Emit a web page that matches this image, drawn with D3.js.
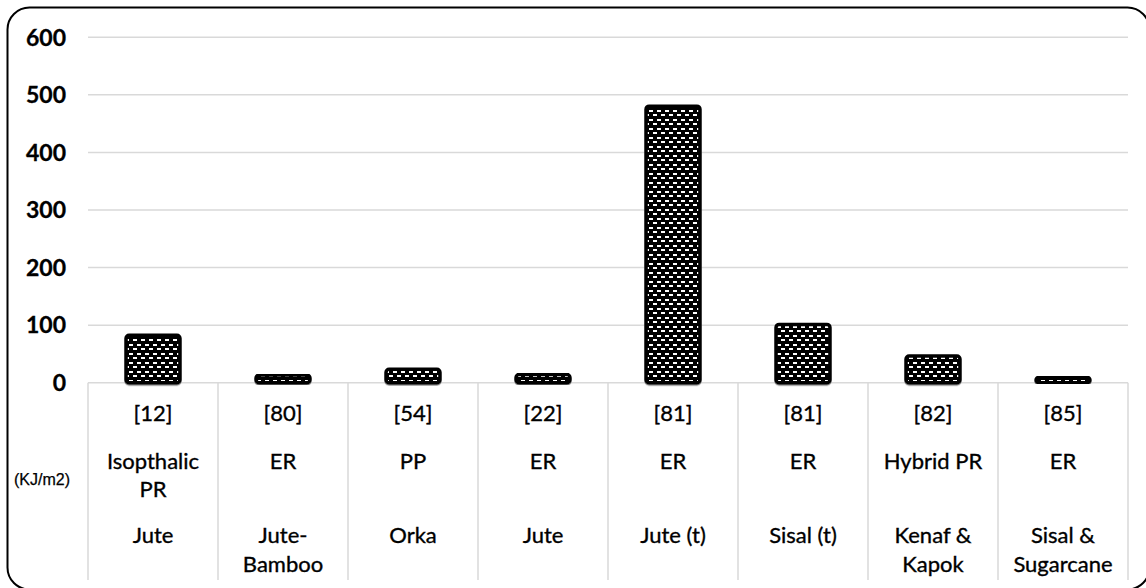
<!DOCTYPE html>
<html><head><meta charset="utf-8">
<script src="https://cdn.jsdelivr.net/npm/d3@7"></script>
<style>
html,body{margin:0;padding:0;background:#fff;}
svg{display:block;}
</style></head>
<body>
<svg id="chart" width="1146" height="588"></svg>
<script>
const refs = ["[12]","[80]","[54]","[22]","[81]","[81]","[82]","[85]"];
const matrices = [["Isopthalic","PR"],["ER"],["PP"],["ER"],["ER"],["ER"],["Hybrid PR"],["ER"]];
const fibers = [["Jute"],["Jute-","Bamboo"],["Orka"],["Jute"],["Jute (t)"],["Sisal (t)"],["Kenaf &","Kapok"],["Sisal &","Sugarcane"]];
const values = [84,15,25,16,482,103,48,11];
const yTicks = [0,100,200,300,400,500,600];
const unitLabel = "(KJ/m2)";

(function(){
const svg = d3.select("#chart");
const plotLeft = 88, plotRight = 1128, plotTop = 37.3, zeroY = 382.7, tableBottom = 580;
const font = "Lato, 'Open Sans', sans-serif";

// outer border
svg.append("rect").attr("x",7.5).attr("y",7.5).attr("width",1142).attr("height",582)
  .attr("rx",22).attr("fill","#fff").attr("stroke","#000").attr("stroke-width",2);

const defs = svg.append("defs");
const pat = defs.append("pattern").attr("id","dash").attr("patternUnits","userSpaceOnUse")
  .attr("width",8).attr("height",9);
pat.append("rect").attr("width",8).attr("height",9).attr("fill","#000");
pat.append("rect").attr("x",1).attr("y",2).attr("width",4).attr("height",2).attr("fill","#fff");
pat.append("rect").attr("x",5).attr("y",6).attr("width",4).attr("height",2).attr("fill","#fff");
pat.append("rect").attr("x",-3).attr("y",6).attr("width",4).attr("height",2).attr("fill","#fff");
const f = defs.append("filter").attr("id","sh").attr("x","-10%").attr("y","-10%").attr("width","120%").attr("height","130%");
f.append("feDropShadow").attr("dx",0).attr("dy",1.2).attr("stdDeviation",0.6).attr("flood-color","#555").attr("flood-opacity",0.8);

const x = d3.scaleBand().domain(d3.range(values.length)).range([plotLeft,plotRight])
  .paddingInner(0.57).paddingOuter(0.285);
const y = d3.scaleLinear().domain([0,600]).range([zeroY,plotTop]);

// gridlines
svg.append("g").selectAll("line").data(yTicks).join("line")
  .attr("x1",plotLeft).attr("x2",plotRight).attr("y1",d=>y(d)).attr("y2",d=>y(d))
  .attr("stroke","#d9d9d9").attr("stroke-width",1.5);

// y tick labels
svg.append("g").selectAll("text").data(yTicks).join("text")
  .attr("x",66).attr("y",d=>y(d)).attr("dy","0.36em").attr("text-anchor","end")
  .attr("font-family",font).attr("font-weight","bold").attr("font-size",23)
  .attr("stroke","#000").attr("stroke-width",0.3)
  .text(d=>d);

// table vertical dividers
const step = x.step();
svg.append("g").selectAll("line").data(d3.range(values.length+1)).join("line")
  .attr("x1",i=>plotLeft+i*step).attr("x2",i=>plotLeft+i*step)
  .attr("y1",zeroY).attr("y2",tableBottom)
  .attr("stroke","#d9d9d9").attr("stroke-width",1.5);

// bars
svg.append("g").selectAll("rect").data(values).join("rect")
  .attr("x",(d,i)=>x(i)+1).attr("width",x.bandwidth()-2)
  .attr("y",d=>y(d)+1).attr("height",d=>y(0)-y(d)-1)
  .attr("rx",3)
  .attr("fill","url(#dash)").attr("stroke","#000").attr("stroke-width",3.5)
  .attr("filter","url(#sh)");

// table text
const cx = i => x(i)+x.bandwidth()/2;
const g = svg.append("g").attr("font-family",font).attr("font-size",22).attr("text-anchor","middle")
  .attr("fill","#000").attr("stroke","#000").attr("stroke-width",0.35);
g.selectAll("text.ref").data(refs).join("text").attr("class","ref")
  .attr("x",(d,i)=>cx(i)).attr("y",421).text(d=>d);
function multi(arr, baseY, cls){
  arr.forEach((lines,i)=>{
    const t = g.append("text").attr("class",cls).attr("x",cx(i)).attr("y",baseY);
    lines.forEach((ln,j)=>t.append("tspan").attr("x",cx(i)).attr("dy",j===0?0:28.5).text(ln));
  });
}
multi(matrices,468.5,"mat");
multi(fibers,543,"fib");

svg.append("text").attr("x",42).attr("y",479).attr("dy","0.36em").attr("text-anchor","middle")
  .attr("font-family","'Liberation Sans Narrow', 'Liberation Sans', sans-serif").attr("font-size",16)
  .attr("stroke","#000").attr("stroke-width",0.25)
  .text(unitLabel);
})();
</script>
</body></html>
